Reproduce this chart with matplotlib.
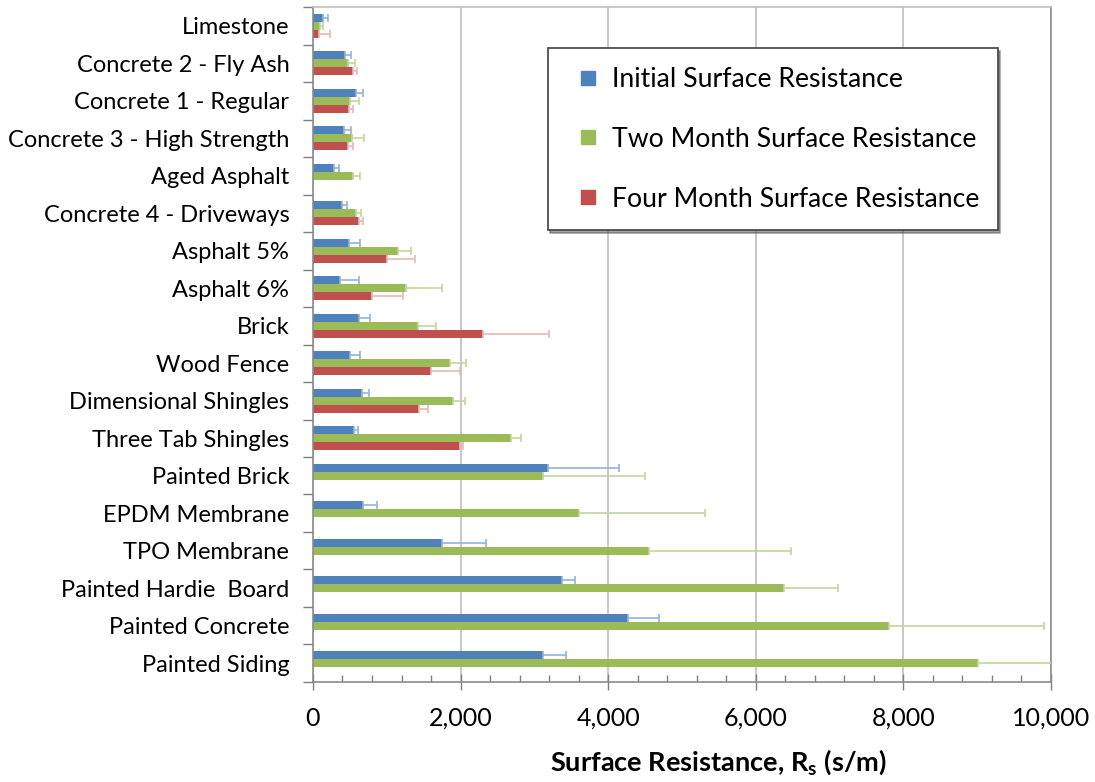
import matplotlib.pyplot as plt
import numpy as np
from matplotlib.lines import Line2D
from matplotlib.ticker import MultipleLocator, FuncFormatter

# surface resistance data (s/m), listed top to bottom as in the chart
materials = ["Limestone", "Concrete 2 - Fly Ash", "Concrete 1 - Regular",
             "Concrete 3 - High Strength", "Aged Asphalt", "Concrete 4 - Driveways",
             "Asphalt 5%", "Asphalt 6%", "Brick", "Wood Fence",
             "Dimensional Shingles", "Three Tab Shingles", "Painted Brick",
             "EPDM Membrane", "TPO Membrane", "Painted Hardie  Board",
             "Painted Concrete", "Painted Siding"]

initial = [140, 430, 580, 420, 280, 390, 490, 360, 620, 500,
           660, 550, 3180, 680, 1750, 3380, 4270, 3120]
initial_err = [60, 85, 95, 100, 70, 75, 145, 265, 150, 135,
               105, 55, 970, 190, 590, 165, 415, 305]

two_month = [100, 470, 500, 525, 545, 580, 1155, 1260, 1420, 1855,
             1895, 2690, 3115, 3610, 4555, 6385, 7805, 9005]
two_month_err = [30, 100, 120, 160, 90, 75, 180, 485, 250, 225,
                 165, 135, 1390, 1700, 1920, 725, 2105, 1500]

nan = np.nan
four_month = [85, 540, 490, 480, nan, 625, 1005, 805, 2300, 1600,
              1435, 1990, nan, nan, nan, nan, nan, nan]
four_month_err = [145, 55, 55, 65, nan, 55, 375, 420, 900, 390,
                  120, 45, nan, nan, nan, nan, nan, nan]

series = [
    ("Initial Surface Resistance", initial, initial_err, "#4F81BD", "#95B3D7"),
    ("Two Month Surface Resistance", two_month, two_month_err, "#9BBB59", "#C3D69B"),
    ("Four Month Surface Resistance", four_month, four_month_err, "#C0504D", "#E6B9B8"),
]

plt.rcParams['font.family'] = ['Lato', 'DejaVu Sans']

fig = plt.figure(figsize=(10.95, 7.82), dpi=100)
ax = fig.add_axes([0.2858, 0.1279, 0.6740, 0.8631])

y = np.arange(len(materials))
h = 0.215
handles = []
for i, (name, vals, errs, col, ecol) in enumerate(series):
    vals = np.array(vals, dtype=float)
    errs = np.array(errs, dtype=float)
    pos = y + (i - 1) * h
    ax.barh(pos, np.nan_to_num(vals), height=h, color=col, zorder=2)
    ok = ~np.isnan(vals)
    ax.errorbar(vals[ok], pos[ok], xerr=[np.zeros(ok.sum()), errs[ok]],
                fmt='none', ecolor=ecol, elinewidth=1.2, capsize=3,
                capthick=1.2, zorder=3)
    handles.append(Line2D([], [], linestyle='none', marker='s', markersize=10,
                          markerfacecolor=col, markeredgecolor=col, label=name))

ax.set_xlim(0, 10000)
ax.set_ylim(len(materials) - 0.5, -0.5)

ax.xaxis.set_major_locator(MultipleLocator(2000))
ax.xaxis.set_minor_locator(MultipleLocator(400))
ax.xaxis.set_major_formatter(FuncFormatter(lambda v, p: f"{int(v):,}"))
ax.tick_params(axis='x', which='major', direction='inout', length=12,
               width=1, color='#7F7F7F', labelsize=18, pad=12)
ax.tick_params(axis='x', which='minor', direction='in', length=5,
               width=1, color='#7F7F7F')

ax.set_yticks(y)
ax.set_yticklabels(materials)
ax.set_yticks(np.arange(len(materials) + 1) - 0.5, minor=True)
ax.tick_params(axis='y', which='major', length=0, labelsize=17, pad=17)
ax.tick_params(axis='y', which='minor', direction='out', length=7,
               width=1, color='#7F7F7F')

ax.grid(axis='x', which='major', color='#BFBFBF', linewidth=1.2, zorder=0)
ax.set_axisbelow(True)

for side in ['left', 'bottom', 'right']:
    ax.spines[side].set_color('#8C8C8C')
    ax.spines[side].set_linewidth(1.2)
ax.spines['top'].set_color('#BFBFBF')
ax.spines['top'].set_linewidth(1.2)

ax.set_xlabel(r"Surface Resistance, R$_\mathregular{s}$ (s/m)",
              fontsize=19.5, fontweight='bold', labelpad=12, x=0.549)

leg = ax.legend(handles=handles, loc='upper left', bbox_to_anchor=(0.318, 0.939),
                fontsize=19.2, frameon=True, fancybox=False, shadow=True,
                edgecolor='#404040', handlelength=1.6, handletextpad=0.1,
                labelspacing=1.31, borderpad=0.7, borderaxespad=0)
leg.get_frame().set_linewidth(1.2)

fig.savefig("out.png", dpi=100)
